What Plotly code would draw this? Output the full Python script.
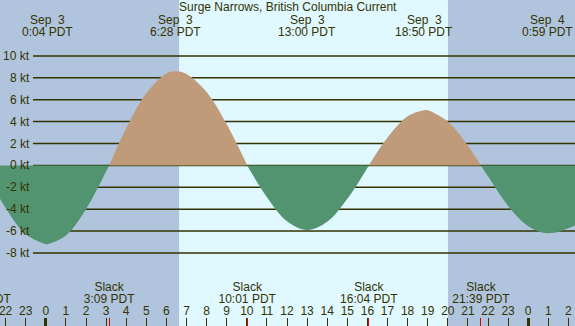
import plotly.graph_objects as go

# ---------------- data (hours relative to Sep 3 00:00 PDT) ----------------
title_text = "Surge Narrows, British Columbia Current"

sunrise_hour = 6.63
sunset_hour = 20.01

slack_hours = [-3.17, 3.15, 10.02, 16.07, 21.65]
slack_times = ["20:50 PDT", "3:09 PDT", "10:01 PDT", "16:04 PDT", "21:39 PDT"]

extreme_hours = [0.07, 6.47, 13.0, 18.83, 24.98]
extreme_knots = [-7.2, 8.6, -5.9, 5.05, -6.2]
extreme_dates = ["Sep  3", "Sep  3", "Sep  3", "Sep  3", "Sep  4"]
extreme_times = ["0:04 PDT", "6:28 PDT", "13:00 PDT", "18:50 PDT", "0:59 PDT"]

# current speed at whole hours
reading_hours = [-3, -2, -1, 0, 1, 2, 3, 4, 5, 6, 7, 8, 9,
                 11, 12, 14, 15, 17, 18, 19, 20, 21,
                 22, 23, 24, 26, 27]
reading_knots = [-0.6, -3.9, -6.3, -7.2, -6.4, -4.0, -0.55, 3.4, 6.6, 8.4, 8.35, 6.7, 3.75,
                 -2.9, -5.1, -5.15, -3.05, 2.55, 4.5, 5.03, 4.0, 1.8,
                 -1.0, -3.7, -5.55, -5.75, -4.7]

hour_tick_values = list(range(-2, 27))
hour_tick_labels = [str(h % 24) for h in hour_tick_values]
midnight_hours = [0, 24]

knot_levels = [10, 8, 6, 4, 2, 0, -2, -4, -6, -8]
knot_labels = ["10 kt", "8 kt", "6 kt", "4 kt", "2 kt", "0 kt", "-2 kt", "-4 kt", "-6 kt", "-8 kt"]

# ---------------- style ----------------
W, H = 575, 326
X0, X1 = -2.279, 26.328
Y0, Y1 = -14.67, 15.11
NIGHT = "#B0C4DE"
DAY = "#E0F8FF"
FLOOD = "#C09B7A"
EBB = "#529470"
INK = "#333300"
FONT = "Liberation Sans"
FS = 12


def py2val(py):
    return Y1 - py / H * (Y1 - Y0)


# build lobes between slack waters
pts = sorted(list(zip(reading_hours, reading_knots)) +
             list(zip(extreme_hours, extreme_knots)) +
             [(s, 0.0) for s in slack_hours])
bounds = slack_hours + [max(reading_hours) + 1]
fig = go.Figure()
for i in range(len(bounds) - 1):
    seg = [p for p in pts if bounds[i] <= p[0] <= bounds[i + 1]]
    xs = [p[0] for p in seg]
    ys = [p[1] for p in seg]
    positive = sum(ys) > 0
    fig.add_trace(go.Scatter(
        x=xs, y=ys, mode="lines", line=dict(width=0, shape="spline", color=FLOOD if positive else EBB),
        fill="tozeroy", fillcolor=FLOOD if positive else EBB, hoverinfo="skip", showlegend=False))

# slack labels (clipped by the plot area)
fig.add_trace(go.Scatter(x=slack_hours, y=[py2val(287.5)] * len(slack_hours), mode="text",
                         text=["Slack"] * len(slack_hours), textposition="middle center",
                         textfont=dict(family=FONT, size=FS, color=INK), cliponaxis=True,
                         hoverinfo="skip", showlegend=False))
fig.add_trace(go.Scatter(x=slack_hours, y=[py2val(299.5)] * len(slack_hours), mode="text",
                         text=slack_times, textposition="middle center",
                         textfont=dict(family=FONT, size=FS, color=INK), cliponaxis=True,
                         hoverinfo="skip", showlegend=False))

shapes = [dict(type="rect", xref="x", yref="paper", x0=sunrise_hour, x1=sunset_hour, y0=0, y1=1,
               fillcolor=DAY, line=dict(width=0), layer="below")]
for k in knot_levels:
    shapes.append(dict(type="line", xref="paper", yref="y", x0=33 / W, x1=1, y0=k, y1=k,
                       line=dict(color=INK, width=1.5), layer="below"))

annotations = [dict(text=title_text, xref="paper", yref="paper", x=0.5, y=1 - 7 / H,
                    xanchor="center", yanchor="middle", showarrow=False,
                    font=dict(family=FONT, size=FS, color=INK))]
for h, d, t in zip(extreme_hours, extreme_dates, extreme_times):
    annotations.append(dict(text=d.replace(" ", "&nbsp;"), xref="x", yref="paper", x=h, y=1 - 20 / H,
                            xanchor="center", yanchor="middle", showarrow=False,
                            font=dict(family=FONT, size=FS, color=INK)))
    annotations.append(dict(text=t, xref="x", yref="paper", x=h, y=1 - 32 / H,
                            xanchor="center", yanchor="middle", showarrow=False,
                            font=dict(family=FONT, size=FS, color=INK)))
for k, lab in zip(knot_levels, knot_labels):
    annotations.append(dict(text=lab, xref="paper", yref="y", x=31.5 / W, y=k,
                            xanchor="right", yanchor="middle", showarrow=False,
                            font=dict(family=FONT, size=FS, color=INK)))

common_x = dict(range=[X0, X1], showgrid=False, zeroline=False, showline=False, fixedrange=True)
fig.update_layout(
    width=W, height=H, autosize=False,
    margin=dict(l=0, r=0, t=0, b=0, pad=0),
    paper_bgcolor=NIGHT, plot_bgcolor=NIGHT,
    showlegend=False,
    xaxis=dict(**common_x, tickmode="array", tickvals=hour_tick_values, ticktext=hour_tick_labels,
               ticks="inside", ticklen=8, tickwidth=1, tickcolor=INK,
               ticklabelposition="inside", ticklabeloverflow="allow",
               tickfont=dict(family=FONT, size=FS, color=INK)),
    xaxis2=dict(**common_x, overlaying="x", anchor="y", side="bottom", tickmode="array",
                tickvals=midnight_hours, ticks="inside", ticklen=8, tickwidth=2.5, tickcolor=INK,
                showticklabels=False),
    xaxis3=dict(**common_x, overlaying="x", anchor="y", side="bottom", tickmode="array",
                tickvals=slack_hours, ticks="inside", ticklen=8, tickwidth=1, tickcolor="#E00000",
                showticklabels=False),
    yaxis=dict(range=[Y0, Y1], visible=False, showgrid=False, zeroline=False, fixedrange=True),
    shapes=shapes, annotations=annotations,
)
# dummy traces so the extra tick axes are drawn
fig.add_trace(go.Scatter(x=[X0], y=[Y0], xaxis="x2", mode="markers", marker=dict(opacity=0),
                         hoverinfo="skip", showlegend=False))
fig.add_trace(go.Scatter(x=[X0], y=[Y0], xaxis="x3", mode="markers", marker=dict(opacity=0),
                         hoverinfo="skip", showlegend=False))

fig.write_html("out.html", config={"displayModeBar": False},
               post_script="document.body.style.margin='0';document.body.style.overflow='hidden';")
